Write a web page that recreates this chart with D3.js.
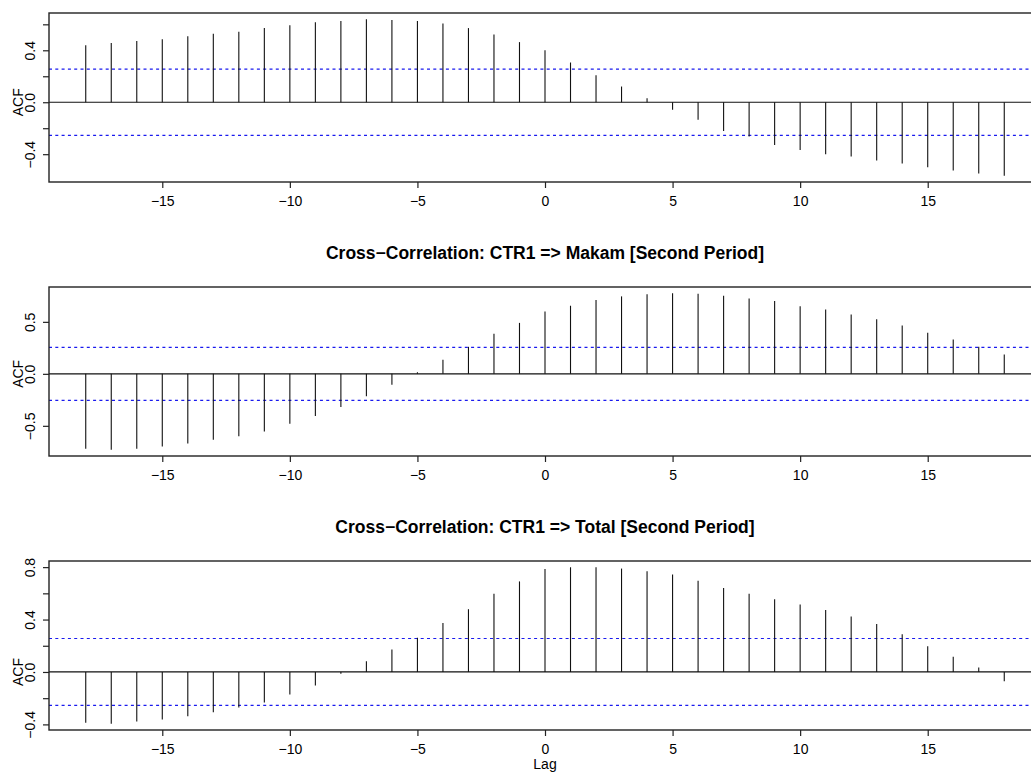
<!DOCTYPE html>
<html>
<head>
<meta charset="utf-8">
<script src="https://cdn.jsdelivr.net/npm/d3@7"></script>
<style>
  body { margin: 0; background: #fff; }
  text { font-family: "Liberation Sans", Arial, sans-serif; fill: #000; }
</style>
</head>
<body>
<div id="plot"></div>
<script>
// lags shared by all three panels
var lags = d3.range(-18, 19)

// ccf values (lag -18 .. 18)
var ccfFirst = [0.438, 0.457, 0.472, 0.485, 0.508, 0.528, 0.543, 0.571, 0.593, 0.616, 0.626,
    0.639, 0.634, 0.626, 0.606, 0.571, 0.521, 0.463, 0.400, 0.306, 0.208, 0.121, 0.030,
    -0.058, -0.134, -0.222, -0.264, -0.330, -0.368, -0.400, -0.418, -0.448, -0.471,
    -0.501, -0.526, -0.549, -0.566]
var ccfMakam = [-0.72, -0.73, -0.72, -0.70, -0.67, -0.635, -0.60, -0.555, -0.48, -0.405, -0.32,
    -0.215, -0.105, 0.015, 0.135, 0.26, 0.385, 0.49, 0.60, 0.655, 0.71, 0.745, 0.765,
    0.775, 0.77, 0.75, 0.725, 0.70, 0.65, 0.62, 0.57, 0.525, 0.465, 0.395, 0.33, 0.26, 0.185]
var ccfTotal = [-0.387, -0.395, -0.377, -0.362, -0.337, -0.307, -0.272, -0.232, -0.172, -0.103, -0.013,
    0.082, 0.172, 0.262, 0.374, 0.479, 0.596, 0.691, 0.786, 0.799, 0.799, 0.789, 0.769,
    0.744, 0.697, 0.641, 0.596, 0.554, 0.514, 0.472, 0.424, 0.367, 0.287, 0.197, 0.117,
    0.035, -0.07]

// approximate 95% band
var clim = 0.255

var titles = ["", "Cross\u2212Correlation: CTR1 => Makam [Second Period]",
    "Cross\u2212Correlation: CTR1 => Total [Second Period]"]
var xTicks = [-15, -10, -5, 0, 5, 10, 15]
var yTicks1 = [-0.4, -0.2, 0, 0.2, 0.4, 0.6]
var yLabels1 = [-0.4, 0, 0.4]
var yTicks2 = [-0.5, 0, 0.5]
var yLabels2 = [-0.5, 0, 0.5]
var yTicks3 = [-0.4, -0.2, 0, 0.2, 0.4, 0.6, 0.8]
var yLabels3 = [-0.4, 0, 0.4, 0.8]

var panels = [
    {values: ccfFirst, title: titles[0], ticks: yTicks1, labels: yLabels1},
    {values: ccfMakam, title: titles[1], ticks: yTicks2, labels: yLabels2},
    {values: ccfTotal, title: titles[2], ticks: yTicks3, labels: yLabels3}
]

// svg dimensions (plot region runs past the right edge, like the source)
var W = 1031, H = 772
var left = 49, right = 1041
var panelTop = [13, 287, 561]
var panelH = 169

var svg = d3.select("#plot").append("svg")
    .attr("width", W)
    .attr("height", H)

// R style 4% padding on the x range
var xpad = (18 - -18) * 0.04
var x = d3.scaleLinear().domain([-18 - xpad, 18 + xpad]).range([left, right])
var fmt = d3.format(".1f")

panels.forEach(function (p, i) {
    var top = panelTop[i]
    var lo = Math.min(-clim, d3.min(p.values))
    var hi = Math.max(clim, d3.max(p.values))
    var pad = (hi - lo) * 0.04
    var y = d3.scaleLinear().domain([lo - pad, hi + pad]).range([top + panelH, top])

    var g = svg.append("g")

    // title
    if (p.title)
        g.append("text")
            .attr("x", (left + right) / 2)
            .attr("y", top - 28)
            .attr("text-anchor", "middle")
            .style("font-size", "17.5px")
            .style("font-weight", "bold")
            .text(p.title)

    // zero line
    g.append("line")
        .attr("x1", left).attr("x2", right)
        .attr("y1", y(0)).attr("y2", y(0))
        .attr("stroke", "#111").attr("stroke-width", 1.2)

    // confidence band
    g.selectAll(".ci")
        .data([clim, -clim])
        .enter().append("line")
        .attr("x1", left).attr("x2", right)
        .attr("y1", function (d) { return y(d) })
        .attr("y2", function (d) { return y(d) })
        .attr("stroke", "#1a1aee")
        .attr("stroke-width", 1.1)
        .attr("stroke-dasharray", "3,3.3")

    // spikes
    g.selectAll(".spike")
        .data(p.values)
        .enter().append("line")
        .attr("class", "spike")
        .attr("x1", function (d, j) { return x(lags[j]) })
        .attr("x2", function (d, j) { return x(lags[j]) })
        .attr("y1", y(0))
        .attr("y2", function (d) { return y(d) })
        .attr("stroke", "#111")
        .attr("stroke-width", 1.1)

    // x axis
    var xa = g.append("g")
        .attr("transform", "translate(0," + (top + panelH) + ")")
        .call(d3.axisBottom(x).tickValues(xTicks).tickSize(6).tickPadding(8))
    xa.select(".domain").remove()
    xa.selectAll("line").attr("stroke", "#222").attr("stroke-width", 1.2)
    xa.selectAll("text").style("font-size", "14px").style("font-family", "Liberation Sans, Arial, sans-serif")

    // y axis with rotated labels
    var ya = g.append("g")
        .attr("transform", "translate(" + left + ",0)")
        .call(d3.axisLeft(y).tickValues(p.ticks).tickSize(6)
            .tickFormat(function (d) {
                return p.labels.some(function (l) { return Math.abs(l - d) < 1e-9 }) ? fmt(d) : ""
            }))
    ya.select(".domain").remove()
    ya.selectAll("line").attr("stroke", "#222").attr("stroke-width", 1.2)
    ya.selectAll("text")
        .attr("x", null).attr("dy", null)
        .attr("transform", "translate(-14,0) rotate(-90)")
        .attr("text-anchor", "middle")
        .attr("y", 0)
        .style("font-size", "14px")
        .style("font-family", "Liberation Sans, Arial, sans-serif")

    g.append("text")
        .attr("transform", "translate(23," + y(0) + ") rotate(-90)")
        .attr("text-anchor", "middle")
        .style("font-size", "14px")
        .text("ACF")

    // box
    g.append("rect")
        .attr("x", left).attr("y", top)
        .attr("width", right - left).attr("height", panelH)
        .attr("fill", "none")
        .attr("stroke", "#222")
        .attr("stroke-width", 1.4)
})

// x axis title
svg.append("text")
    .attr("x", (left + right) / 2)
    .attr("y", 769)
    .attr("text-anchor", "middle")
    .style("font-size", "14px")
    .text("Lag")
</script>
</body>
</html>
